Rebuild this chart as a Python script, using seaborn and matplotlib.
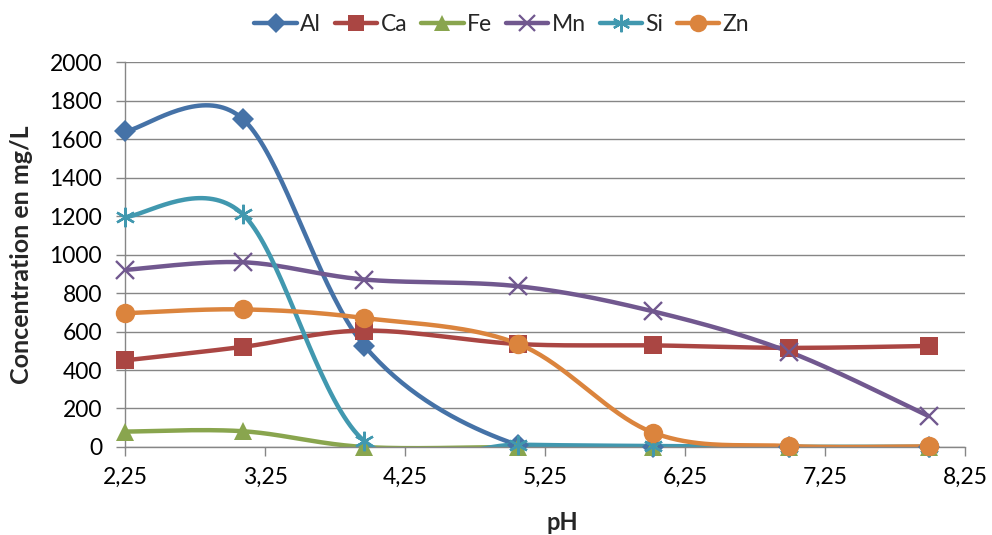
import numpy as np
import pandas as pd
import seaborn as sns
import matplotlib.pyplot as plt
from matplotlib.lines import Line2D

# pH values (x) and concentrations (mg/L)
ph = [2.25, 3.09, 3.96, 5.06, 6.02, 6.99, 7.99]
al = [1640, 1705, 525, 8, 0, 0, 0]
ca = [450, 520, 605, 535, 528, 515, 525]
fe = [80, 82, 0, 0, 0, 0, 0]
mn = [920, 960, 870, 835, 705, 495, 160]
si = [1195, 1210, 30, 12, 5, 0, 0]
zn = [695, 715, 670, 535, 75, 5, 3]

series = ["Al", "Ca", "Fe", "Mn", "Si", "Zn"]
values = [al, ca, fe, mn, si, zn]
colors = {"Al": "#4572A7", "Ca": "#AA4643", "Fe": "#89A54E",
          "Mn": "#71588F", "Si": "#4198AF", "Zn": "#DB843D"}
markers = {"Al": "D", "Ca": "s", "Fe": "^", "Mn": "x", "Si": (6, 2, 0), "Zn": "o"}
msizes = {"Al": 11, "Ca": 13, "Fe": 13, "Mn": 13, "Si": 14, "Zn": 14}


def excel_smooth(x, y, n=40):
    # Bezier smoothing similar to Excel's "smoothed line"
    p = np.column_stack([x, y]).astype(float)
    p = np.vstack([p[0], p, p[-1]])
    t = np.linspace(0, 1, n)[:, None]
    out = []
    for i in range(1, len(p) - 2):
        p0, p1, p2, p3 = p[i - 1], p[i], p[i + 1], p[i + 2]
        c1 = p1 + (p2 - p0) / 6
        c2 = p2 - (p3 - p1) / 6
        seg = ((1 - t) ** 3) * p1 + 3 * ((1 - t) ** 2) * t * c1 + 3 * (1 - t) * t ** 2 * c2 + t ** 3 * p2
        out.append(seg)
    out = np.vstack(out)
    return out[:, 0], out[:, 1]


rows = []
for name, vals in zip(series, values):
    sx, sy = excel_smooth(ph, vals)
    for k, (a, b) in enumerate(zip(sx, sy)):
        rows.append({"element": name, "order": k, "pH": a, "conc": b})
curves = pd.DataFrame(rows)

points = pd.DataFrame({"pH": np.tile(ph, len(series)),
                       "conc": np.concatenate(values),
                       "element": np.repeat(series, len(ph))})

sns.set_style("white")
plt.rcParams["font.family"] = ["Lato", "DejaVu Sans"]

fig = plt.figure(figsize=(9.92, 5.35), dpi=100)
ax = fig.add_axes([0.126, 0.1645, 0.847, 0.7195])

sns.lineplot(data=curves, x="pH", y="conc", hue="element", palette=colors,
             units="element", estimator=None, sort=False, linewidth=3.2,
             legend=False, ax=ax)

for name in series:
    d = points[points["element"] == name]
    filled = markers[name] not in ("x", (6, 2, 0))
    ax.plot(d["pH"], d["conc"], linestyle="none", marker=markers[name],
            markersize=msizes[name], color=colors[name],
            markeredgewidth=0 if filled else 1.7, clip_on=False, zorder=5)

ax.set_xlim(2.25, 8.25)
ax.set_ylim(0, 2000)
ax.set_xticks(np.arange(2.25, 8.26, 1.0))
ax.set_xticklabels([f"{v:.2f}".replace(".", ",") for v in np.arange(2.25, 8.26, 1.0)])
ax.set_yticks(np.arange(0, 2001, 200))
ax.yaxis.grid(True, color="#868686", linewidth=1.0)
ax.xaxis.grid(False)
for s in ["top", "right"]:
    ax.spines[s].set_visible(False)
for s in ["left", "bottom"]:
    ax.spines[s].set_color("#868686")
    ax.spines[s].set_linewidth(1.0)
ax.tick_params(axis="both", direction="out", length=6.5, width=1.0,
               color="#868686", labelsize=16.5, labelcolor="black")
ax.tick_params(axis="x", pad=8, bottom=True)
ax.tick_params(axis="y", pad=10, left=True)

ax.set_xlabel("pH", fontsize=17, fontweight="bold")
ax.xaxis.set_label_coords(0.52, -0.165)
ax.set_ylabel("Concentration en mg/L", fontsize=18, fontweight="bold")
ax.yaxis.set_label_coords(-0.11, 0.5)

handles = [Line2D([0], [0], color=colors[n], linewidth=3.2, marker=markers[n],
                  markersize=msizes[n] * 0.9,
                  markeredgewidth=0 if markers[n] not in ("x", (6, 2, 0)) else 1.6)
           for n in series]
fig.legend(handles, series, loc="center", bbox_to_anchor=(0.506, 0.955), ncol=6,
           frameon=False, fontsize=16.5, handlelength=1.85, handletextpad=0.15,
           columnspacing=0.6)

plt.savefig("out.png", dpi=100)
